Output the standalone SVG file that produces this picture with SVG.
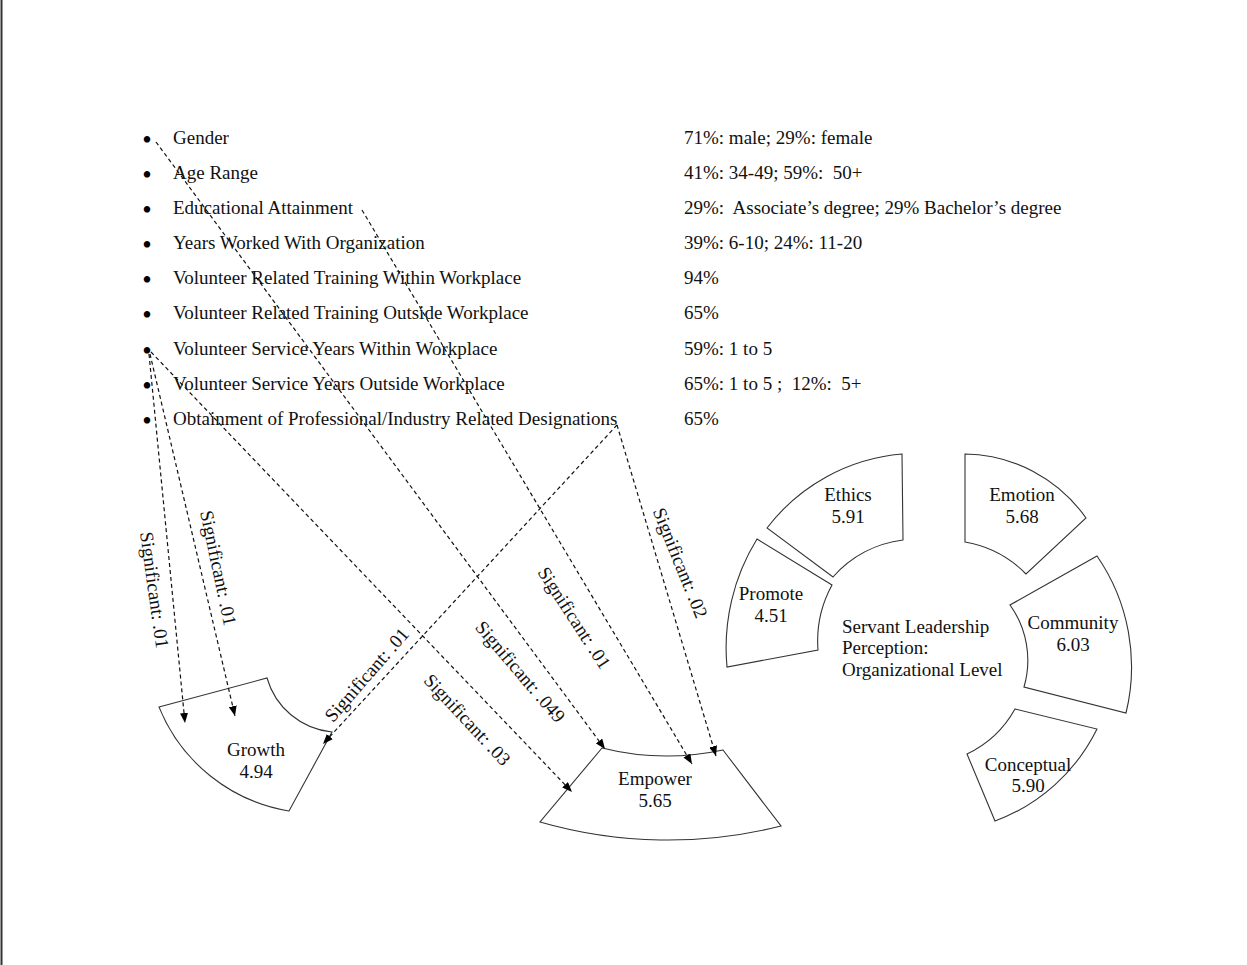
<svg xmlns="http://www.w3.org/2000/svg" width="1247" height="965" viewBox="0 0 1247 965">
  <defs>
    <marker id="arrow" markerUnits="userSpaceOnUse" markerWidth="10" markerHeight="8" refX="10" refY="4" orient="auto">
      <path d="M0,0 L10,4 L0,8 Z" fill="#000"/>
    </marker>
    <style>
      text { font-family: "Liberation Serif", "Times New Roman", serif; font-size: 19px; fill: #111; }
      .c { text-anchor: middle; }
      .b { text-anchor: middle; font-size: 27px; fill: #000; }
      .pre { white-space: pre; }
      .shape { fill: #fff; stroke: #333; stroke-width: 1.1; }
      .link { fill: none; stroke: #111; stroke-width: 1.2; stroke-dasharray: 4 3; marker-end: url(#arrow); }
    </style>
  </defs>

  <rect x="0" y="0" width="1247" height="965" fill="#fff"/>
  <line x1="1.5" y1="0" x2="1.5" y2="965" stroke="#333" stroke-width="2"/>

  <!-- demographic list -->
  <g id="list">
    <text x="147" y="149" class="b">•</text><text x="173" y="144">Gender</text>
    <text x="147" y="184" class="b">•</text><text x="173" y="179">Age Range</text>
    <text x="147" y="219" class="b">•</text><text x="173" y="214">Educational Attainment</text>
    <text x="147" y="254" class="b">•</text><text x="173" y="249">Years Worked With Organization</text>
    <text x="147" y="289" class="b">•</text><text x="173" y="284">Volunteer Related Training Within Workplace</text>
    <text x="147" y="324" class="b">•</text><text x="173" y="319">Volunteer Related Training Outside Workplace</text>
    <text x="147" y="359.5" class="b">•</text><text x="173" y="354.5">Volunteer Service Years Within Workplace</text>
    <text x="147" y="394.5" class="b">•</text><text x="173" y="389.5">Volunteer Service Years Outside Workplace</text>
    <text x="147" y="430" class="b">•</text><text x="173" y="425">Obtainment of Professional/Industry Related Designations</text>
  </g>

  <g id="values">
    <text x="684" y="144" class="pre">71%: male; 29%: female</text>
    <text x="684" y="179" class="pre">41%: 34-49; 59%:  50+</text>
    <text x="684" y="214" class="pre">29%:  Associate’s degree; 29% Bachelor’s degree</text>
    <text x="684" y="249" class="pre">39%: 6-10; 24%: 11-20</text>
    <text x="684" y="284">94%</text>
    <text x="684" y="319">65%</text>
    <text x="684" y="354.5" class="pre">59%: 1 to 5</text>
    <text x="684" y="389.5" class="pre">65%: 1 to 5 ;  12%:  5+</text>
    <text x="684" y="425">65%</text>
  </g>

  <!-- Growth block arc -->
  <g id="growth">
    <path class="shape" d="M159,707 L267,678 A75,75 0 0 0 332,732 L289,811 A170,170 0 0 1 159,707 Z"/>
    <text x="256" y="756" class="c">Growth</text>
    <text x="256" y="777.5" class="c">4.94</text>
  </g>

  <!-- Empower block arc -->
  <g id="empower">
    <path class="shape" d="M602,748 A267,267 0 0 0 723,750 L781,826 A462,462 0 0 1 540,822 Z"/>
    <text x="655" y="785" class="c">Empower</text>
    <text x="655" y="806.5" class="c">5.65</text>
  </g>

  <!-- servant leadership ring -->
  <g id="ethics">
    <path class="shape" d="M767,528 A190,190 0 0 1 902,454 L903,540 A112,112 0 0 0 833,577 Z"/>
    <text x="848" y="501" class="c">Ethics</text>
    <text x="848" y="522.5" class="c">5.91</text>
  </g>
  <g id="emotion">
    <path class="shape" d="M965,454 A150,150 0 0 1 1086,518 L1026,574 A112,112 0 0 0 965,542 Z"/>
    <text x="1022" y="501" class="c">Emotion</text>
    <text x="1022" y="522.5" class="c">5.68</text>
  </g>
  <g id="promote">
    <path class="shape" d="M757,539 L832,585 A117,117 0 0 0 818,650 L727,667 A207,207 0 0 1 757,539 Z"/>
    <text x="771" y="600" class="c">Promote</text>
    <text x="771" y="621.5" class="c">4.51</text>
  </g>
  <g id="community">
    <path class="shape" d="M1097,556 A195,195 0 0 1 1126,713 L1024,687 A95,95 0 0 0 1010,605 Z"/>
    <text x="1073" y="629" class="c">Community</text>
    <text x="1073" y="650.5" class="c">6.03</text>
  </g>
  <g id="conceptual">
    <path class="shape" d="M1015,709 L1097,729 A185,185 0 0 1 995,821 L967,754 A108,108 0 0 0 1015,709 Z"/>
    <text x="1028" y="770.5" class="c">Conceptual</text>
    <text x="1028" y="792" class="c">5.90</text>
  </g>
  <g id="center-title">
    <text x="842" y="632.5">Servant Leadership</text>
    <text x="842" y="654">Perception:</text>
    <text x="842" y="675.5">Organizational Level</text>
  </g>

  <!-- significance links -->
  <g id="connectors">
    <path class="link" d="M156,142 L605,749"/>
    <path class="link" d="M362,210 L692,764"/>
    <path class="link" d="M151,352 L572,792"/>
    <path class="link" d="M149,354 L185,723"/>
    <path class="link" d="M150,354 L235,716"/>
    <path class="link" d="M617,425 L323,744"/>
    <path class="link" d="M617,425 L716,756"/>

    <text class="c" transform="translate(154,590) rotate(82)" y="6">Significant: .01</text>
    <text class="c" transform="translate(218,568) rotate(78)" y="6">Significant: .01</text>
    <text class="c" transform="translate(367,675) rotate(-49)" y="6">Significant: .01</text>
    <text class="c" transform="translate(467,720) rotate(47)" y="6">Significant: .03</text>
    <text class="c" transform="translate(520,672) rotate(49.5)" y="6">Significant: .049</text>
    <text class="c" transform="translate(574,618) rotate(57)" y="6">Significant: .01</text>
    <text class="c" transform="translate(680,563) rotate(68)" y="6">Significant: .02</text>
  </g>
</svg>
